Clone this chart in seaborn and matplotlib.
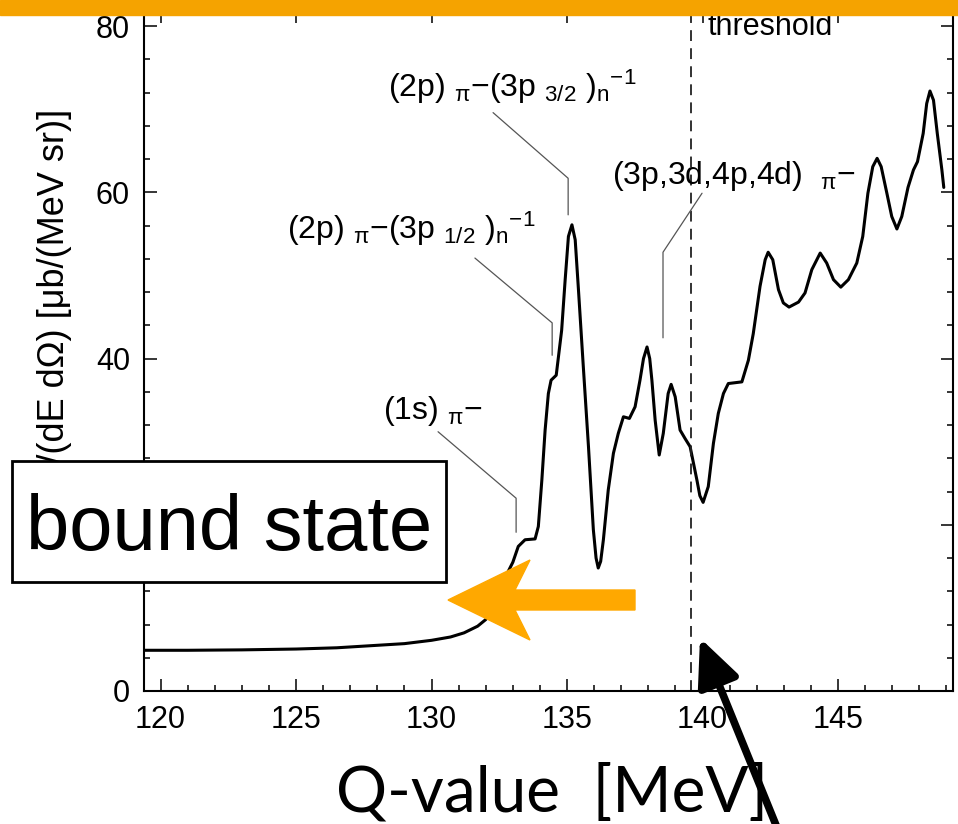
import matplotlib
matplotlib.use("Agg")
import matplotlib.pyplot as plt
import seaborn as sns
from matplotlib.ticker import MultipleLocator
from matplotlib.patches import Rectangle, Polygon

# spectrum
q_mev = [119.4, 121.0, 123.0, 125.0, 126.5, 128.0, 129.0, 130.0, 130.7, 131.2, 131.7, 132.0,
         132.3, 132.6, 132.8, 133.0, 133.2, 133.45, 133.82, 133.94, 134.07, 134.19, 134.31,
         134.41, 134.6, 134.8, 134.93, 135.05, 135.18, 135.3, 135.42, 135.6, 135.79, 135.97,
         136.07, 136.15, 136.24, 136.34, 136.52, 136.71, 136.89, 137.08, 137.3, 137.51, 137.69,
         137.82, 137.95, 138.05, 138.13, 138.25, 138.4, 138.55, 138.73, 138.84, 138.99, 139.17,
         139.35, 139.54, 139.79, 139.9, 140.02, 140.21, 140.4, 140.58, 140.77, 140.95, 141.45,
         141.69, 141.87, 142.12, 142.31, 142.42, 142.59, 142.8, 142.98, 143.19, 143.54, 143.78,
         144.03, 144.34, 144.58, 144.83, 145.1, 145.38, 145.69, 145.91, 146.1, 146.28, 146.44,
         146.59, 146.8, 146.98, 147.17, 147.35, 147.58, 147.78, 147.93, 148.14, 148.27, 148.39,
         148.52, 148.66, 148.83, 148.9]
xsec = [4.9, 4.9, 4.95, 5.05, 5.2, 5.5, 5.7, 6.1, 6.5, 7.0, 7.8, 8.6,
        10.2, 12.6, 14.2, 15.5, 17.4, 18.2, 18.3, 19.8, 25.4, 31.4, 35.8,
        37.4, 38.0, 43.4, 49.5, 54.7, 56.1, 54.3, 48.3, 39.0, 29.4, 19.4,
        16.0, 14.8, 15.6, 18.2, 24.2, 28.6, 31.0, 33.0, 32.8, 34.2, 37.4,
        40.0, 41.4, 40.0, 37.4, 32.6, 28.4, 31.0, 35.8, 36.9, 35.4, 31.4,
        30.4, 29.4, 25.4, 23.5, 22.7, 24.6, 29.8, 33.4, 35.8, 37.0, 37.2,
        39.8, 43.0, 48.7, 51.9, 52.8, 51.9, 48.3, 46.7, 46.2, 46.8, 47.9,
        50.7, 52.7, 51.5, 49.5, 48.6, 49.5, 51.5, 54.7, 59.9, 63.1, 64.1,
        63.1, 59.9, 57.1, 55.6, 57.1, 60.6, 62.7, 63.7, 67.1, 70.7, 72.2,
        71.1, 67.1, 62.7, 60.6]

threshold_q = 139.56

x_major = [120, 125, 130, 135, 140, 145]
y_major = [0, 20, 40, 60, 80]

# state labels and their leader lines (x list, y list)
labels = [
    r"(1s) $_{\mathrm{\pi}}$−",
    r"(2p) $_{\mathrm{\pi}}$−(3p $_{1/2}$ )$_{\mathrm{n}}$$^{-1}$",
    r"(2p) $_{\mathrm{\pi}}$−(3p $_{3/2}$ )$_{\mathrm{n}}$$^{-1}$",
    r"(3p,3d,4p,4d)  $_{\mathrm{\pi}}$−",
]
label_x = [128.2, 124.67, 128.39, 136.66]
label_y = [32.7, 54.4, 71.5, 61.0]
leader_x = [[130.24, 133.12, 133.12], [131.6, 134.45, 134.45],
            [132.27, 135.04, 135.04], [139.98, 138.54, 138.54]]
leader_y = [[31.2, 23.2, 19.1], [52.1, 44.3, 40.4],
            [69.6, 61.7, 57.3], [59.9, 52.8, 42.5]]

sns.set_style("ticks")
plt.rcParams["font.family"] = ["Liberation Sans", "DejaVu Sans"]
plt.rcParams["mathtext.fontset"] = "custom"
plt.rcParams["mathtext.rm"] = "Liberation Sans"
plt.rcParams["mathtext.it"] = "Liberation Sans:italic"
plt.rcParams["mathtext.bf"] = "Liberation Sans:bold"
plt.rcParams["mathtext.sf"] = "Liberation Sans"
for key in ["text.color", "axes.labelcolor", "xtick.color", "ytick.color", "axes.edgecolor"]:
    plt.rcParams[key] = "black"

W, H = 958, 824
fig = plt.figure(figsize=(W / 100, H / 100), dpi=100)
ax = fig.add_axes([144 / W, 1 - 691 / H, 809 / W, 681 / H])

sns.lineplot(x=q_mev, y=xsec, ax=ax, color="black", lw=2.2, sort=False, estimator=None)
ax.lines[0].set_solid_joinstyle("round")
ax.axvline(threshold_q, color="#222222", lw=1.3, ls=(0, (6, 4)))

for lx, ly in zip(leader_x, leader_y):
    ax.plot(lx, ly, color="#555555", lw=0.9)
for txt, tx, ty in zip(labels, label_x, label_y):
    ax.text(tx, ty, txt, fontsize=23, ha="left", va="baseline")
ax.text(140.2, 79.0, "threshold", fontsize=22, ha="left", va="baseline")

ax.set_xlim(119.39, 149.24)
ax.set_ylim(0, 81.95)
ax.set_xticks(x_major)
ax.set_yticks(y_major)
ax.xaxis.set_minor_locator(MultipleLocator(1))
ax.yaxis.set_minor_locator(MultipleLocator(4))
ax.tick_params(which="both", direction="in", top=True, right=True, width=1.1,
               labelsize=22, pad=10)
ax.tick_params(which="major", length=9)
ax.tick_params(which="minor", length=4)
for s in ax.spines.values():
    s.set_linewidth(1.5)

ax.set_ylabel("d²σ/(dE dΩ) [μb/(MeV sr)]", fontsize=26)
ax.yaxis.set_label_coords(-0.089, 0.555)
ax.set_xlabel("Q-value  [MeV]", fontsize=46, family=["Lato", "DejaVu Sans"])
ax.xaxis.set_label_coords(0.505, -0.105)

# overlay decorations
orange = "#ffa800"
fig.add_artist(Rectangle((0, 1 - 15 / H), 1, 15 / H, transform=fig.transFigure,
                         color="#f5a300", zorder=10))
fig.add_artist(Rectangle((12 / W, 1 - 582 / H), 434 / W, 121 / H, transform=fig.transFigure,
                         fc="white", ec="black", lw=2, zorder=5))
fig.text(229 / W, 1 - 550 / H, "bound state", fontsize=56, ha="center", va="baseline", zorder=6)
arrow_px = [(448, 600), (530, 560), (515, 590), (635, 590), (635, 610), (515, 610), (530, 640)]
fig.add_artist(Polygon([(x / W, 1 - y / H) for x, y in arrow_px], closed=True,
                       transform=fig.transFigure, color=orange, zorder=6))
ax.annotate("", xy=(700 / W, 1 - 638 / H), xytext=(780 / W, 1 - 835 / H),
            xycoords="figure fraction", textcoords="figure fraction",
            arrowprops=dict(arrowstyle="-|>,head_length=1.1,head_width=0.5",
                            mutation_scale=26, lw=5.5, color="black",
                            shrinkA=0, shrinkB=0), annotation_clip=False)

fig.savefig("out.png", dpi=100)
